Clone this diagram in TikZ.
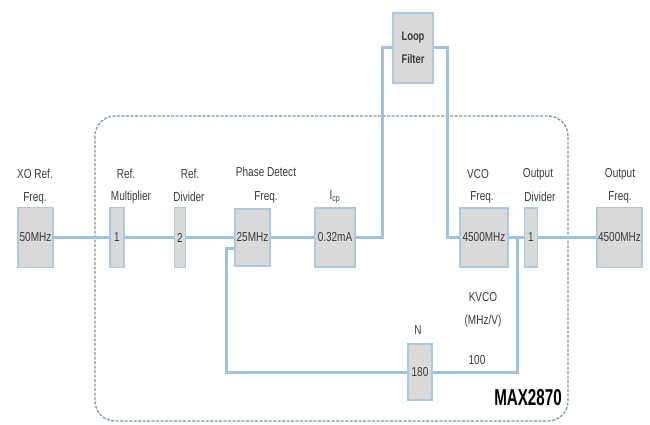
\documentclass[tikz,border=0pt]{standalone}
\usepackage{fontspec}
\setmainfont{Liberation Sans}[FakeStretch=0.77]
\newfontfamily\chipfont{Liberation Sans Bold}[FakeStretch=0.66]
\newfontfamily\lffont{Liberation Sans Bold}[FakeStretch=0.75]
\definecolor{wire}{HTML}{9DC3DE}
\definecolor{boxfill}{HTML}{D9D9D9}
\definecolor{boxline}{HTML}{AAC8DE}
\definecolor{dashc}{HTML}{7F98AA}
\definecolor{txt}{HTML}{3A3A3A}
\begin{document}
\begin{tikzpicture}[x=1pt,y=-1pt,
  blk/.style={draw=boxline, line width=1.5pt, fill=boxfill, inner sep=0pt, text=txt,
    font=\fontsize{13}{13}\selectfont},
  lbl/.style={inner sep=0pt, text=txt, font=\fontsize{13}{13}\selectfont},
  wireline/.style={draw=wire, line width=3pt},
  chip/.style={draw=dashc, line width=1.3pt, dash pattern=on 3pt off 1.5pt, rounded corners=20pt}]
\useasboundingbox (0,0) rectangle (650,425);
\fill[white] (0,0) rectangle (650,425);

% chip outline
\draw[chip] (95,116) rectangle (568,421);

% blocks
\node[blk, minimum width=35pt, minimum height=60pt] (xo) at (35.5,237.5) {50MHz};
\node[blk, minimum width=14pt, minimum height=60pt] (mul) at (117,237.5) {1};
\node[blk, minimum width=11pt, minimum height=60pt] (div) at (180,237.5) {2};
\node[blk, minimum width=35pt, minimum height=57pt] (pd) at (252.5,237.5) {25MHz};
\node[blk, minimum width=40pt, minimum height=59pt] (icp) at (335,237.5) {0.32mA};
\node[blk, minimum width=40pt, minimum height=70pt, align=center, font=\lffont\fontsize{12.5}{23}\selectfont] (lf) at (413,48) {Loop\\Filter};
\node[blk, minimum width=48pt, minimum height=59pt] (vco) at (484,237.5) {4500MHz};
\node[blk, minimum width=13pt, minimum height=59pt] (od) at (531,237.5) {1};
\node[blk, minimum width=45pt, minimum height=60pt] (out) at (619.5,237.5) {4500MHz};
\node[blk, minimum width=24pt, minimum height=56pt] (n) at (420,372) {180};

% labels
\node[lbl] (l1a) at (35,174) {XO Ref.};
\node[lbl] (l1b) at (35,198) {Freq.};
\node[lbl] (l2a) at (126,174) {Ref.};
\node[lbl] (l2b) at (131,197) {Multiplier};
\node[lbl] (l3a) at (190,174) {Ref.};
\node[lbl] (l3b) at (189,197) {Divider};
\node[lbl] (l4a) at (266,172) {Phase Detect};
\node[lbl] (l4b) at (266,197) {Freq.};
\node[lbl] (l5) at (335,197) {I\textsubscript{cp}};
\node[lbl] (l6a) at (478,174) {VCO};
\node[lbl] (l6b) at (482,197) {Freq.};
\node[lbl] (l7a) at (538,174) {Output};
\node[lbl] (l7b) at (540,197) {Divider};
\node[lbl] (l8a) at (620,174) {Output};
\node[lbl] (l8b) at (620,197) {Freq.};
\node[lbl] (ln) at (418,330) {N};
\node[lbl] (lk1) at (483,297) {KVCO};
\node[lbl] (lk2) at (483,321) {(MHz/V)};
\node[lbl] (lk3) at (477,360) {100};
\node[inner sep=0pt, text=black, font=\chipfont\fontsize{23}{23}\selectfont] (chipname) at (528,398) {MAX2870};

% wires
\coordinate (la) at (382,48);
\coordinate (lb) at (447,48);
\coordinate (fb) at (517,237.5);
\coordinate (fc) at (226,248);
\draw[wireline] (xo.east) -- (mul.west);
\draw[wireline] (mul.east) -- (div.west);
\draw[wireline] (div.east) -- (pd.west);
\draw[wireline] (pd.east) -- (icp.west);
\draw[wireline] (icp.east) -| (la) -- (lf.west);
\draw[wireline] (lf.east) -- (lb) |- (vco.west);
\draw[wireline] (vco.east) -- (od.west);
\draw[wireline] (od.east) -- (out.west);
\draw[wireline] (fb) |- (n.east);
\draw[wireline] (n.west) -| (fc) -- (fc -| pd.west);
\end{tikzpicture}
\end{document}
